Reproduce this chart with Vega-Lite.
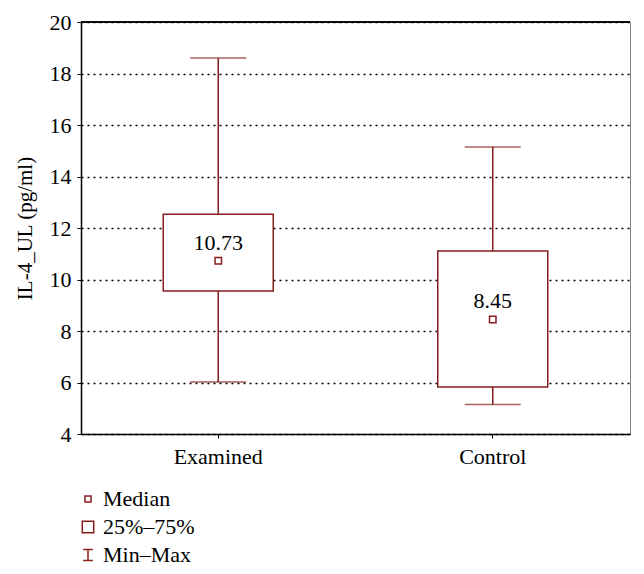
{
  "$schema": "https://vega.github.io/schema/vega-lite/v6.json",
  "width": 549,
  "height": 412,
  "autosize": "none",
  "padding": {"left": 81, "top": 22, "right": 14, "bottom": 140},
  "background": "white",
  "config": {
    "font": "'Liberation Serif', 'DejaVu Serif', serif",
    "view": {"stroke": "#808080", "strokeWidth": 1},
    "text": {"font": "'Liberation Serif', 'DejaVu Serif', serif"},
    "axis": {"labelFont": "'Liberation Serif', 'DejaVu Serif', serif", "titleFont": "'Liberation Serif', 'DejaVu Serif', serif", "labelFontSize": 21, "titleFontSize": 21, "labelColor": "black", "titleColor": "black", "titleFontWeight": "normal", "domainColor": "black", "tickColor": "black", "domainWidth": 1.5},
    "legend": {"labelFont": "'Liberation Serif', 'DejaVu Serif', serif", "labelFontSize": 22, "labelColor": "black"}
  },
  "datasets": {
    "stats": [
      {"group": "Examined", "min": 6.02, "q1": 9.55, "median": 10.73, "q3": 12.53, "max": 18.6, "label": "10.73"},
      {"group": "Control", "min": 5.15, "q1": 5.83, "median": 8.45, "q3": 11.11, "max": 15.15, "label": "8.45"}
    ],
    "legendItems": [
      {"item": "Median"},
      {"item": "25%–75%"},
      {"item": "Min–Max"}
    ]
  },
  "data": {"name": "stats"},
  "encoding": {
    "x": {
      "field": "group", "type": "nominal", "sort": ["Examined", "Control"],
      "scale": {"paddingInner": 0, "paddingOuter": 0},
      "axis": {"title": null, "labelAngle": 0, "tickSize": 4, "labelPadding": 8, "grid": false, "labelFontSize": 22}
    }
  },
  "layer": [
    {
      "mark": {"type": "rule", "color": "black", "strokeWidth": 1.5},
      "encoding": {"x": null, "y": {"datum": 20, "type": "quantitative"}}
    },
    {
      "mark": {"type": "rule", "color": "#861c1c", "strokeWidth": 1.5},
      "encoding": {
        "y": {"field": "min", "type": "quantitative",
          "scale": {"domain": [4, 20], "nice": false, "zero": false},
          "axis": {"title": "IL-4_UL (pg/ml)", "values": [4, 6, 8, 10, 12, 14, 16, 18, 20], "tickSize": 4, "labelPadding": 6, "titlePadding": 14,
            "labelFontSize": 22, "titleFontSize": 21,
            "grid": true, "gridColor": "black", "gridDash": [2, 4], "gridWidth": 1.5, "gridOpacity": 1}},
        "y2": {"field": "max"}
      }
    },
    {
      "mark": {"type": "bar", "width": 110, "fill": "white", "stroke": "#861c1c", "strokeWidth": 1.5},
      "encoding": {
        "y": {"field": "q1", "type": "quantitative"},
        "y2": {"field": "q3"}
      }
    },
    {
      "mark": {"type": "tick", "size": 56, "thickness": 1.5, "color": "#861c1c", "orient": "horizontal"},
      "encoding": {"y": {"field": "min", "type": "quantitative"}}
    },
    {
      "mark": {"type": "tick", "size": 56, "thickness": 1.5, "color": "#861c1c", "orient": "horizontal"},
      "encoding": {"y": {"field": "max", "type": "quantitative"}}
    },
    {
      "mark": {"type": "point", "shape": "square", "size": 42, "filled": true, "fill": "white", "stroke": "#861c1c", "strokeWidth": 1.5, "opacity": 1},
      "encoding": {"y": {"field": "median", "type": "quantitative"}}
    },
    {
      "mark": {"type": "text", "fontSize": 22, "color": "black", "dy": -18, "baseline": "middle"},
      "encoding": {"y": {"field": "median", "type": "quantitative"}, "text": {"field": "label"}}
    },
    {
      "data": {"name": "legendItems"},
      "mark": {"type": "point", "opacity": 0, "size": 144, "filled": false, "color": "#861c1c", "strokeWidth": 1.5},
      "encoding": {
        "x": null,
        "y": {"datum": 12, "type": "quantitative"},
        "shape": {
          "field": "item", "type": "nominal", "sort": ["Median", "25%–75%", "Min–Max"],
          "scale": {"domain": ["Median", "25%–75%", "Min–Max"], "range": [
            "M-0.5,-0.5H0.5V0.5H-0.5Z",
            "M-0.95,-0.95H0.95V0.95H-0.95Z",
            "M-0.8,-0.9H0.8M0,-0.9V0.9M-0.8,0.9H0.8"
          ]},
          "legend": {"title": null, "orient": "none", "legendX": -4, "legendY": 466, "direction": "vertical",
            "symbolSize": 144, "symbolFillColor": "white", "symbolStrokeColor": "#861c1c", "symbolStrokeWidth": 1.5, "symbolOpacity": 1,
            "rowPadding": 6, "labelOffset": 4, "padding": 0}
        }
      }
    }
  ]
}
